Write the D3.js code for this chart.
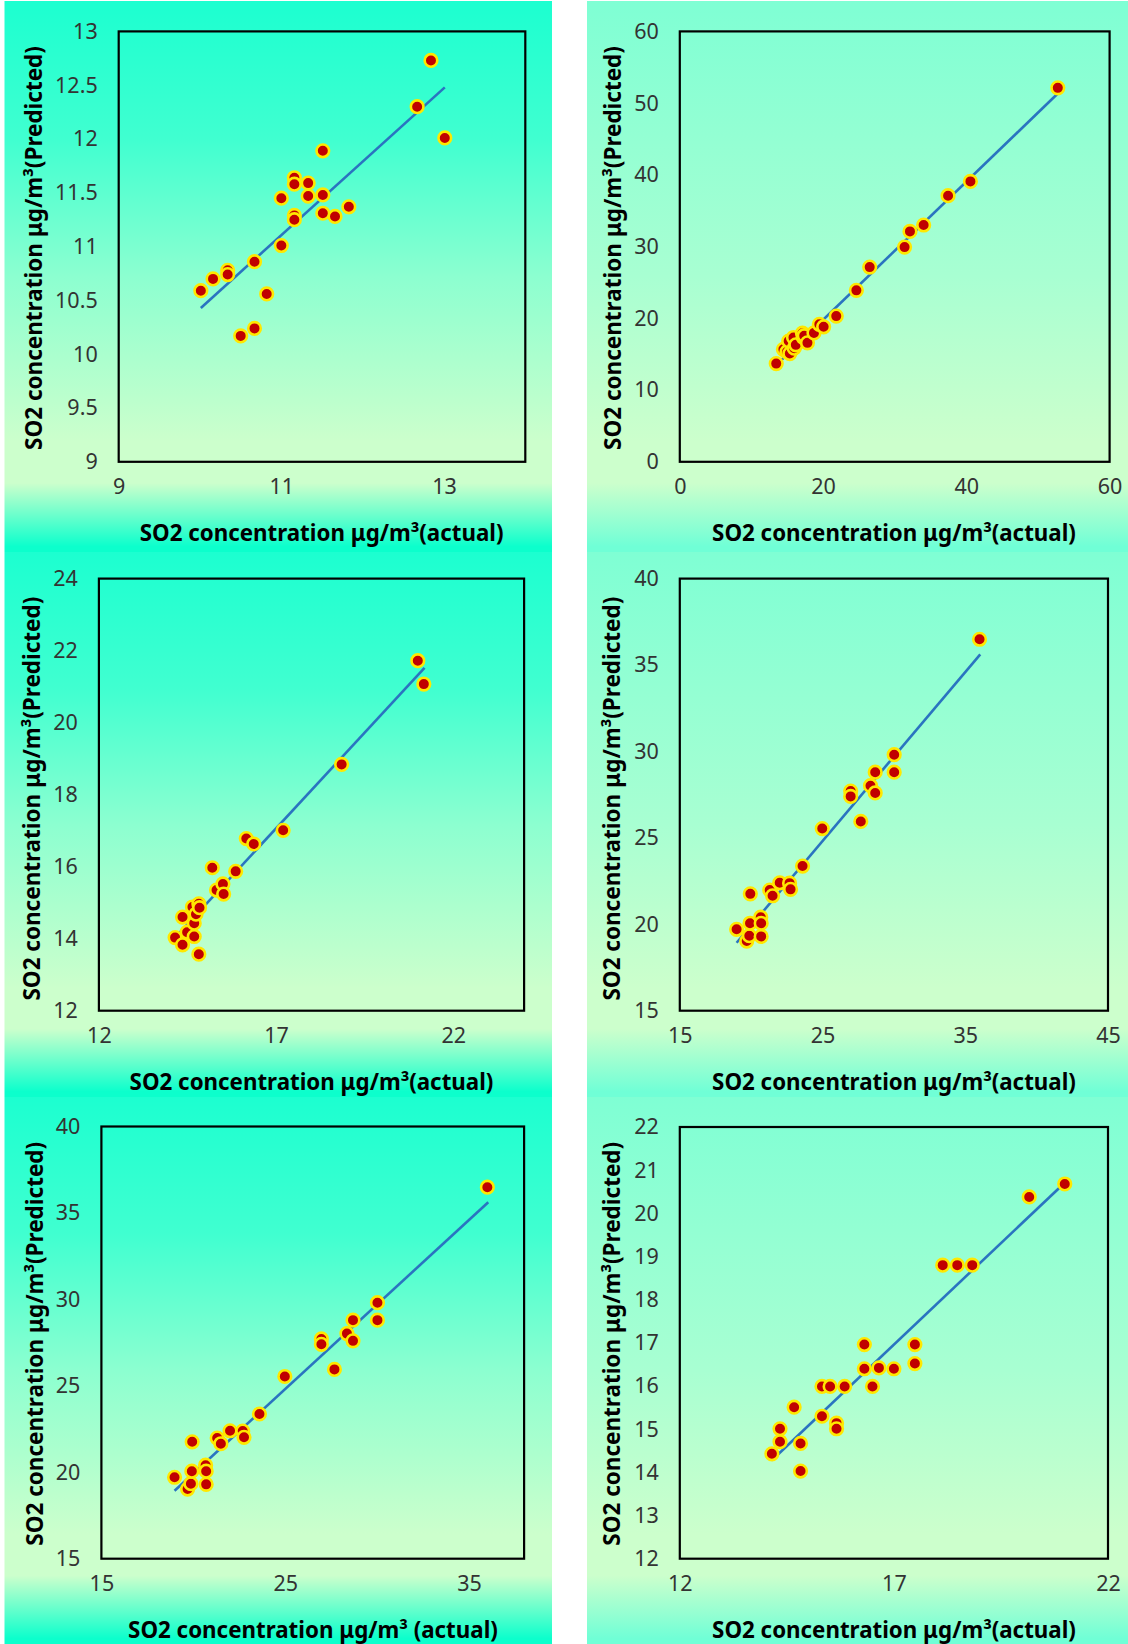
<!DOCTYPE html>
<html>
<head>
<meta charset="utf-8">
<script src="https://cdn.jsdelivr.net/npm/d3@7"></script>
<style>
  body { margin: 0; background: #ffffff; }
  svg { display: block; }
</style>
</head>
<body>
<script>
// ---- data ----
// panel 1
const p1x = [10.01, 10.16, 10.34, 10.34, 10.50, 10.67, 10.67, 10.82, 11.00, 11.00, 11.16, 11.16, 11.16, 11.16, 11.33, 11.33, 11.51, 11.51, 11.51, 11.66, 11.83, 12.67, 12.84, 13.01];
const p1y = [10.59, 10.70, 10.78, 10.74, 10.17, 10.86, 10.24, 10.56, 11.45, 11.01, 11.64, 11.58, 11.29, 11.25, 11.59, 11.47, 11.89, 11.48, 11.31, 11.28, 11.37, 12.30, 12.73, 12.01];
const p1trend = [10.01, 10.43, 13.01, 12.48];
const p1xTicks = [9, 11, 13];
const p1yTicks = [9, 9.5, 10, 10.5, 11, 11.5, 12, 12.5, 13];

// panel 2
const p2x = [13.46, 14.46, 14.96, 15.36, 15.20, 15.87, 15.97, 16.20, 17.12, 17.22, 17.37, 17.82, 18.73, 19.48, 20.08, 21.84, 24.65, 26.51, 31.38, 32.13, 34.04, 37.45, 40.57, 52.77];
const p2y = [13.69, 15.68, 15.34, 15.09, 16.83, 17.33, 15.83, 16.30, 17.93, 17.33, 17.58, 16.58, 17.97, 19.17, 18.82, 20.31, 23.90, 27.14, 29.93, 32.12, 33.01, 37.10, 39.09, 52.13];
const p2trend = [13.46, 13.49, 52.77, 51.34];
const p2xTicks = [0, 20, 40, 60];
const p2yTicks = [0, 10, 20, 30, 40, 50, 60];

// panel 3
const p3x = [14.15, 14.36, 14.36, 14.49, 14.64, 14.69, 14.69, 14.74, 14.82, 14.84, 14.82, 15.20, 15.32, 15.50, 15.52, 15.86, 16.16, 16.37, 17.20, 18.85, 21.00, 21.17];
const p3y = [14.03, 14.60, 13.83, 14.18, 14.88, 14.43, 14.06, 14.68, 14.97, 14.86, 13.57, 15.97, 15.35, 15.52, 15.24, 15.87, 16.78, 16.63, 17.01, 18.84, 21.72, 21.07];
const p3trend = [14.15, 14.03, 21.19, 21.52];
const p3xTicks = [12, 17, 22];
const p3yTicks = [12, 14, 16, 18, 20, 22, 24];

// panels 4 and 5 show the same points
const p4x = [18.98, 19.69, 19.87, 19.92, 19.94, 20.67, 20.70, 20.70, 21.30, 21.50, 22.00, 22.69, 22.76, 23.60, 24.98, 26.97, 26.97, 27.68, 28.36, 28.69, 28.69, 30.02, 30.02, 36.00];
const p4y = [19.71, 19.03, 19.34, 20.06, 21.76, 20.41, 20.06, 19.30, 21.98, 21.65, 22.40, 22.38, 22.02, 23.37, 25.54, 27.71, 27.40, 25.95, 28.02, 27.60, 28.80, 29.81, 28.80, 36.49];
const p4trend = [18.98, 18.93, 36.05, 35.62];
const p4xTicks = [15, 25, 35, 45];
const p4yTicks = [15, 20, 25, 30, 35, 40];
const p5xTicks = [15, 25, 35];

// panel 6
const p6x = [14.15, 14.34, 14.34, 14.67, 14.82, 14.82, 15.32, 15.32, 15.51, 15.66, 15.66, 15.85, 16.31, 16.31, 16.50, 16.65, 17.00, 17.49, 17.49, 18.14, 18.48, 18.83, 20.16, 20.99];
const p6y = [14.43, 15.01, 14.71, 15.51, 14.67, 14.03, 15.99, 15.30, 15.99, 15.14, 15.01, 15.99, 16.96, 16.40, 15.99, 16.42, 16.40, 16.96, 16.52, 18.80, 18.80, 18.80, 20.38, 20.68];
const p6trend = [14.15, 14.28, 20.99, 20.71];
const p6xTicks = [12, 17, 22];
const p6yTicks = [12, 13, 14, 15, 16, 17, 18, 19, 20, 21, 22];

const yTitle = "SO2 concentration μg/m³(Predicted)";
const xTitle = "SO2 concentration μg/m³(actual)";
const xTitle5 = "SO2 concentration μg/m³ (actual)";

// ---- layout ----
const width = 1128, height = 1644;
const colL = [4.5, 552], colR = [587, 1128];
const rows = [[1, 552], [552, 1097], [1097, 1644]];

const panels = [
  {col: colL, row: rows[0], grad: "gl", fr: [118.7, 525.3, 31.4, 461.8], xd: [9, 14], yd: [9, 13], xs: p1x, ys: p1y, tr: p1trend, xt: p1xTicks, yt: p1yTicks, xtl: xTitle, xc: 321.6, xy: 532, yc: 33.6, yy: 248},
  {col: colR, row: rows[0], grad: "gr", fr: [679.8, 1109.6, 31.4, 461.8], xd: [0, 60], yd: [0, 60], xs: p2x, ys: p2y, tr: p2trend, xt: p2xTicks, yt: p2yTicks, xtl: xTitle, xc: 894, xy: 532, yc: 612.6, yy: 248},
  {col: colL, row: rows[1], grad: "gl", fr: [98.9, 524.1, 578.6, 1010.7], xd: [12, 24], yd: [12, 24], xs: p3x, ys: p3y, tr: p3trend, xt: p3xTicks, yt: p3yTicks, xtl: xTitle, xc: 311.5, xy: 1081, yc: 31.6, yy: 798.6},
  {col: colR, row: rows[1], grad: "gr", fr: [679.8, 1108, 578.6, 1010.7], xd: [15, 45], yd: [15, 40], xs: p4x, ys: p4y, tr: p4trend, xt: p4xTicks, yt: p4yTicks, xtl: xTitle, xc: 894, xy: 1081, yc: 611.7, yy: 798.6},
  {col: colL, row: rows[2], grad: "gl", fr: [101.4, 524.1, 1126.5, 1558.7], xd: [15, 38], yd: [15, 40], xs: p4x, ys: p4y, tr: p4trend, xt: p5xTicks, yt: p4yTicks, xtl: xTitle5, xc: 313, xy: 1629, yc: 34, yy: 1343.8},
  {col: colR, row: rows[2], grad: "gr", fr: [679.8, 1108, 1127, 1558.7], xd: [12, 22], yd: [12, 22], xs: p6x, ys: p6y, tr: p6trend, xt: p6xTicks, yt: p6yTicks, xtl: xTitle, xc: 894, xy: 1629, yc: 611.7, yy: 1343.8}
];

const svg = d3.select("body").append("svg")
  .attr("width", width)
  .attr("height", height)
  .attr("font-family", "'Noto Sans', 'Open Sans', sans-serif");

svg.append("rect").attr("width", width).attr("height", height).attr("fill", "#ffffff");

// background gradients
const defs = svg.append("defs");
const addGrad = (id, stops) => {
  const g = defs.append("linearGradient").attr("id", id)
    .attr("x1", 0).attr("y1", 0).attr("x2", 0).attr("y2", 1);
  stops.forEach(s => g.append("stop").attr("offset", s[0]).attr("stop-color", s[1]));
};
addGrad("gl", [[0, "#1cffd0"], [0.25, "#40ffd0"], [0.5, "#8cffd0"], [0.8, "#ccffcc"], [0.875, "#ccffcc"], [0.99, "#0cffcc"], [1, "#0cffcc"]]);
addGrad("gr", [[0, "#7fffd4"], [0.5, "#a8ffd2"], [0.8, "#ccffcc"], [0.875, "#ccffcc"], [0.99, "#70ffd6"], [1, "#70ffd6"]]);

// fit a text to a given width
const fitText = (t, w) => {
  const len = t.node().getComputedTextLength();
  const fs = parseFloat(t.attr("font-size"));
  t.attr("font-size", fs * w / len);
};

panels.forEach(p => {
  const g = svg.append("g");

  g.append("rect")
    .attr("x", p.col[0]).attr("y", p.row[0])
    .attr("width", p.col[1] - p.col[0]).attr("height", p.row[1] - p.row[0])
    .attr("fill", `url(#${p.grad})`);

  const [l, r, t, b] = p.fr;
  const x = d3.scaleLinear().domain(p.xd).range([l, r]);
  const y = d3.scaleLinear().domain(p.yd).range([b, t]);

  // y axis labels
  const ya = g.append("g")
    .attr("transform", `translate(${l - 21},0)`)
    .call(d3.axisLeft(y).tickValues(p.yt).tickSize(0).tickPadding(0).tickFormat(d3.format("")));
  ya.select(".domain").remove();
  ya.selectAll("text").attr("font-size", 21.5).attr("font-family", "'Noto Sans', sans-serif").attr("fill", "#333333");

  // x axis labels
  const xa = g.append("g")
    .attr("transform", `translate(0,${b + 17})`)
    .call(d3.axisBottom(x).tickValues(p.xt).tickSize(0).tickPadding(0).tickFormat(d3.format("")));
  xa.select(".domain").remove();
  xa.selectAll("text").attr("font-size", 21.5).attr("font-family", "'Noto Sans', sans-serif").attr("fill", "#333333");

  // frame
  g.append("rect")
    .attr("x", l).attr("y", t).attr("width", r - l).attr("height", b - t)
    .attr("fill", "none").attr("stroke", "#000000").attr("stroke-width", 2.2);

  // trend line
  g.append("line")
    .attr("x1", x(p.tr[0])).attr("y1", y(p.tr[1]))
    .attr("x2", x(p.tr[2])).attr("y2", y(p.tr[3]))
    .attr("stroke", "#2a74c0").attr("stroke-width", 2.6);

  // points
  g.selectAll("circle.pt")
    .data(d3.range(p.xs.length))
    .join("circle")
    .attr("class", "pt")
    .attr("cx", i => x(p.xs[i]))
    .attr("cy", i => y(p.ys[i]))
    .attr("r", 6.3)
    .attr("fill", "#c00000")
    .attr("stroke", "#ffe800")
    .attr("stroke-width", 2.6);

  // titles
  const xt = g.append("text")
    .text(p.xtl)
    .attr("x", p.xc).attr("y", p.xy)
    .attr("text-anchor", "middle")
    .attr("dominant-baseline", "central")
    .attr("font-size", 23)
    .attr("font-weight", "bold")
    .attr("fill", "#000000");
  fitText(xt, p.xtl === xTitle5 ? 370 : 364);

  const yt = g.append("text")
    .text(yTitle)
    .attr("transform", `translate(${p.yc},${p.yy}) rotate(-90)`)
    .attr("text-anchor", "middle")
    .attr("dominant-baseline", "central")
    .attr("font-size", 23)
    .attr("font-weight", "bold")
    .attr("fill", "#000000");
  fitText(yt, 404);
});
</script>
</body>
</html>
